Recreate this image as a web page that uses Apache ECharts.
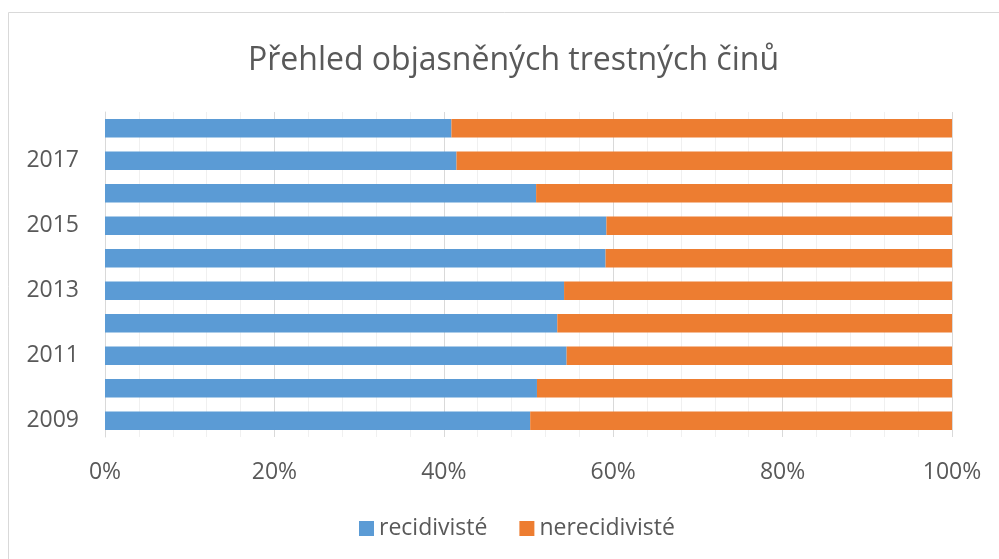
<!DOCTYPE html>
<html><head><meta charset="utf-8">
<script src="https://cdn.jsdelivr.net/npm/echarts@6/dist/echarts.min.js"></script>
<style>html,body{margin:0;padding:0;background:#fff}#c{width:999px;height:559px}</style>
</head><body><div id="c"></div>
<script>
var years = ['2009','2010','2011','2012','2013','2014','2015','2016','2017','2018'];
var recidiviste = [50.2, 51.0, 54.5, 53.4, 54.2, 59.1, 59.2, 50.9, 41.5, 40.9];
var nerecidiviste = recidiviste.map(function(v){ return +(100 - v).toFixed(1); });
var xTicks = ['0%','20%','40%','60%','80%','100%'];

var txt = '#595959';
var font = 'Open Sans';
var chart = echarts.init(document.getElementById('c'));
chart.setOption({
  animation: false,
  graphic: [{type:'rect', shape:{x:8.5,y:12.5,width:1100,height:600}, style:{fill:'none', stroke:'#d9d9d9', lineWidth:1}, z:-10}],
  title: {text:'Přehled objasněných trestných činů', left:243, top:40,
    textStyle:{color:txt, fontFamily:font, fontSize:32, fontWeight:'normal'}},
  legend: {bottom:14, left:354, itemWidth:15, itemHeight:15, itemGap:32, icon:'rect',
    textStyle:{color:txt, fontFamily:font, fontSize:23}},
  grid: {left:105, right:47, top:112, bottom:122},
  xAxis: {type:'value', min:0, max:100, interval:20,
    axisLabel:{color:txt, fontFamily:font, fontSize:23, margin:24,
      formatter:function(v){ return xTicks[Math.round(v/20)]; }},
    axisLine:{show:false}, axisTick:{show:false},
    splitLine:{show:true, lineStyle:{color:'#d9d9d9', width:1}},
    minorTick:{show:false, splitNumber:5},
    minorSplitLine:{show:true, lineStyle:{color:'#f0f0f0', width:1}}},
  yAxis: {type:'category', data:years,
    axisLabel:{color:txt, fontFamily:font, fontSize:23, interval:1, margin:26},
    axisLine:{show:true, lineStyle:{color:'#d9d9d9'}}, axisTick:{show:false}},
  series: [
    {name:'recidivisté', type:'bar', stack:'a', data:recidiviste, barCategoryGap:'43%', itemStyle:{color:'#5B9BD5'}},
    {name:'nerecidivisté', type:'bar', stack:'a', data:nerecidiviste, itemStyle:{color:'#ED7D31'}}
  ]
});
</script></body></html>
